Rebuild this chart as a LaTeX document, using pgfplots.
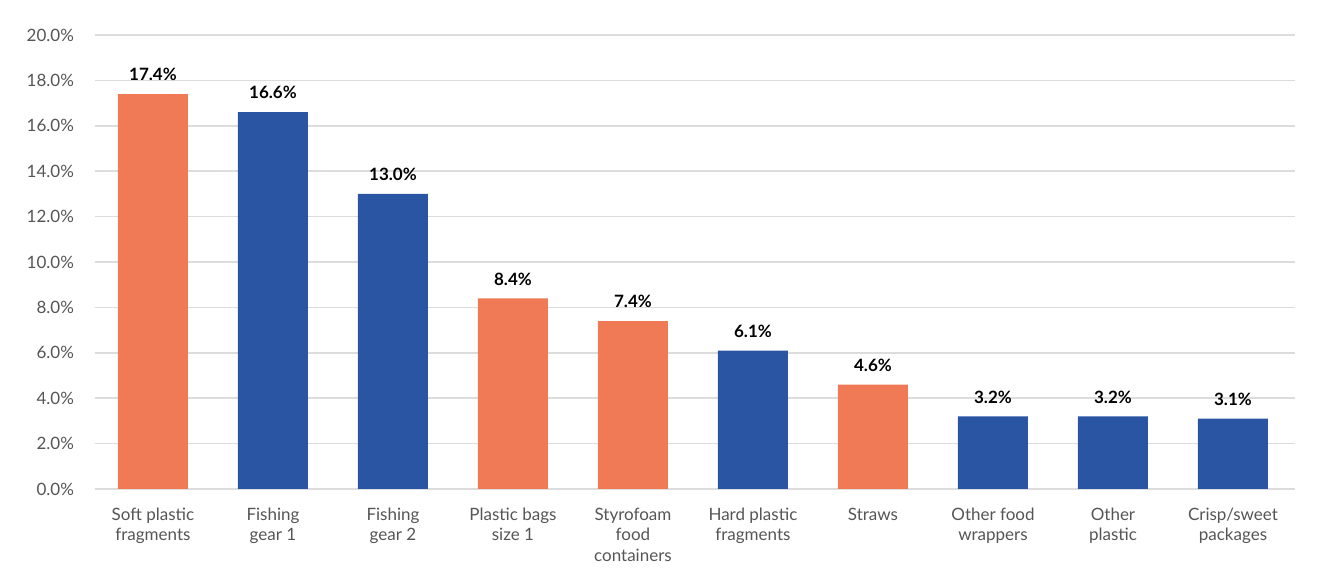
\documentclass[border=0pt]{standalone}
\usepackage{pgfplots}
\pgfplotsset{compat=1.18}
\usepackage{fontspec}
\setmainfont{Lato}
\definecolor{orng}{HTML}{F07A55}
\definecolor{blu}{HTML}{2A55A2}
\definecolor{gridc}{HTML}{DCDCDC}
\definecolor{tickc}{HTML}{555555}
\begin{document}
\begin{tikzpicture}
\begin{axis}[
  name=ax,
  at={(0,0)}, anchor=south west,
  scale only axis,
  width=600pt, height=227pt,
  xmin=-0.483, xmax=9.517,
  ymin=0, ymax=20,
  ytick={0,2,...,20},
  xtick={0,...,9},
  xticklabels={{Soft plastic\\fragments},{Fishing\\gear 1},{Fishing\\gear 2},{Plastic bags\\size 1},{Styrofoam\\food\\containers},{Hard plastic\\fragments},{Straws},{Other food\\wrappers},{Other\\plastic},{Crisp/sweet\\packages}},
  x tick label style={align=center, font=\fontsize{8.5}{10.2}\selectfont, text=tickc, anchor=north, yshift=-6pt},
  y tick label style={font=\fontsize{8.5}{10}\selectfont, text=tickc, xshift=-7pt},
  yticklabel={\pgfmathprintnumber[fixed,fixed zerofill,precision=1]{\tick}\%},
  /pgf/number format/assume math mode=true,
  axis line style={draw=none},
  major tick length=0pt,
  ymajorgrids,
  grid style={gridc, line width=0.8pt},
  ybar, bar width=35pt, bar shift=0pt,
  nodes near coords={\pgfmathprintnumber[fixed,fixed zerofill,precision=1]{\pgfplotspointmeta}\%},
  every node near coord/.append style={font=\bfseries\fontsize{8.5}{10}\selectfont, text=black, yshift=3pt},
  clip=false,
]
\addplot[fill=orng, draw=none] coordinates {(0,17.4) (3,8.4) (4,7.4) (6,4.6)};
\addplot[fill=blu, draw=none] coordinates {(1,16.6) (2,13.0) (5,6.1) (7,3.2) (8,3.2) (9,3.1)};
\end{axis}
\pgfresetboundingbox
\useasboundingbox ([xshift=-47.5pt,yshift=-43pt]ax.south west) rectangle ([xshift=20pt,yshift=17.5pt]ax.north east);
\end{tikzpicture}
\end{document}
